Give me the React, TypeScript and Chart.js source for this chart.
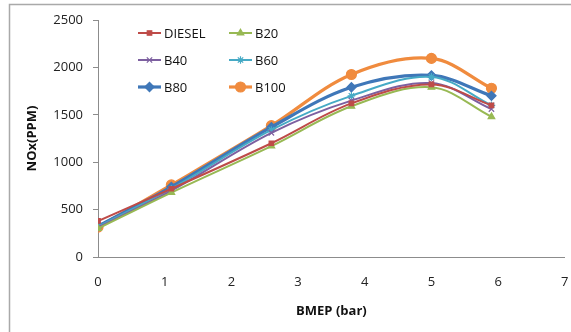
import React, { useEffect, useRef } from "react";
import { Chart, registerables } from "chart.js";
import { drawPoint } from "chart.js/helpers";

Chart.register(...registerables);

const bmep = [0, 1.1, 2.6, 3.8, 5, 5.9];
const diesel = [380, 720, 1200, 1620, 1820, 1600];
const b20 = [300, 680, 1170, 1590, 1790, 1480];
const b40 = [310, 700, 1310, 1650, 1835, 1560];
const b60 = [320, 720, 1340, 1700, 1900, 1600];
const b80 = [325, 740, 1370, 1790, 1915, 1700];
const b100 = [315, 760, 1385, 1925, 2095, 1780];

const seriesLabels = ["DIESEL", "B20", "B40", "B60", "B80", "B100"];
const seriesValues = [diesel, b20, b40, b60, b80, b100];
const seriesColors = ["#BE4B48", "#98B954", "#7D60A0", "#46AAC5", "#3F77B8", "#F08B3E"];
const seriesStyles = ["rect", "triangle", "crossRot", "star", "rectRot", "circle"];
const seriesRadius = [3.2, 3.8, 3.8, 3.8, 4.6, 5];
const seriesWidth = [2, 2, 2, 2, 3.2, 3.2];

const xTicks = [0, 1, 2, 3, 4, 5, 6, 7];
const yTicks = [0, 500, 1000, 1500, 2000, 2500];

const FONT = "'Open Sans', 'Noto Sans', sans-serif";

const framePlugin = {
  id: "frame",
  beforeDraw(chart: any) {
    const ctx = chart.ctx;
    ctx.save();
    ctx.fillStyle = "#ffffff";
    ctx.fillRect(0, 0, chart.width, chart.height);
    ctx.strokeStyle = "#A9A9A9";
    ctx.lineWidth = 1.5;
    ctx.beginPath();
    ctx.moveTo(9.5, chart.height + 5);
    ctx.lineTo(9.5, 4.5);
    ctx.lineTo(chart.width + 5, 4.5);
    ctx.stroke();
    ctx.restore();
  },
};

const legendPlugin = {
  id: "insideLegend",
  afterDatasetsDraw(chart: any) {
    const ctx = chart.ctx;
    const colX = [138, 229];
    const rowY = [33, 60, 87];
    ctx.save();
    ctx.font = `13px ${FONT}`;
    ctx.textBaseline = "middle";
    ctx.textAlign = "left";
    seriesLabels.forEach((label, i) => {
      const x = colX[i % 2];
      const y = rowY[Math.floor(i / 2)];
      const color = seriesColors[i];
      ctx.strokeStyle = color;
      ctx.fillStyle = color;
      ctx.lineWidth = seriesWidth[i];
      ctx.beginPath();
      ctx.moveTo(x, y);
      ctx.lineTo(x + 23, y);
      ctx.stroke();
      ctx.lineWidth = 1.2;
      drawPoint(ctx, { pointStyle: seriesStyles[i], radius: seriesRadius[i], rotation: 0, borderWidth: 1.2 } as any, x + 11.5, y);
      ctx.fillStyle = "#111";
      ctx.fillText(label, x + 26, y + 1);
    });
    ctx.restore();
  },
};

export default function App() {
  const ref = useRef<HTMLCanvasElement | null>(null);
  useEffect(() => {
    if (!ref.current) return;
    const chart = new Chart(ref.current, {
      type: "line",
      data: {
        datasets: seriesLabels.map((label, i) => ({
          label,
          data: bmep.map((x, j) => ({ x, y: seriesValues[i][j] })),
          borderColor: seriesColors[i],
          backgroundColor: seriesColors[i],
          borderWidth: seriesWidth[i],
          pointStyle: seriesStyles[i] as any,
          pointRadius: seriesRadius[i],
          pointBorderWidth: 1.2,
          tension: 0.35,
          fill: false,
        })),
      },
      options: {
        responsive: false,
        animation: false,
        layout: { padding: { left: 0, right: 5, top: 20, bottom: 0 } },
        plugins: {
          legend: { display: false },
          tooltip: { enabled: false },
        },
        scales: {
          x: {
            type: "linear",
            min: 0,
            max: 7,
            afterBuildTicks: (s: any) => {
              s.ticks = xTicks.map((v) => ({ value: v }));
            },
            afterFit: (s: any) => {
              s.height = 75;
            },
            grid: { display: true, drawOnChartArea: false, drawTicks: true, tickLength: 17, color: "rgba(0,0,0,0)" },
            border: { color: "#8C8C8C", width: 1 },
            ticks: {
              color: "#222",
              font: { family: FONT, size: 13 },
              padding: 0,
              maxRotation: 0,
              callback: (v: any) => String(v),
            },
            title: {
              display: true,
              text: "BMEP (bar)",
              color: "#111",
              font: { family: FONT, size: 13, weight: "bold" },
              padding: { top: 0, bottom: 13 },
            },
          },
          y: {
            type: "linear",
            min: 0,
            max: 2500,
            afterBuildTicks: (s: any) => {
              s.ticks = yTicks.map((v) => ({ value: v }));
            },
            afterFit: (s: any) => {
              s.width = 98;
            },
            grid: { display: true, drawOnChartArea: false, drawTicks: true, tickLength: 5, color: "#8C8C8C" },
            border: { color: "#8C8C8C", width: 1 },
            ticks: {
              color: "#222",
              font: { family: FONT, size: 13 },
              padding: 10,
              callback: (v: any) => String(v),
            },
            title: {
              display: true,
              text: "NOx(PPM)",
              color: "#111",
              font: { family: FONT, size: 13, weight: "bold" },
              padding: { top: 24, bottom: 0 },
            },
          },
        },
      },
      plugins: [framePlugin, legendPlugin],
    });
    return () => chart.destroy();
  }, []);
  return (
    <div style={{ position: "fixed", left: 0, top: 0, width: 571, height: 332, background: "#fff" }}>
      <canvas ref={ref} width={571} height={332} style={{ display: "block" }} />
    </div>
  );
}
